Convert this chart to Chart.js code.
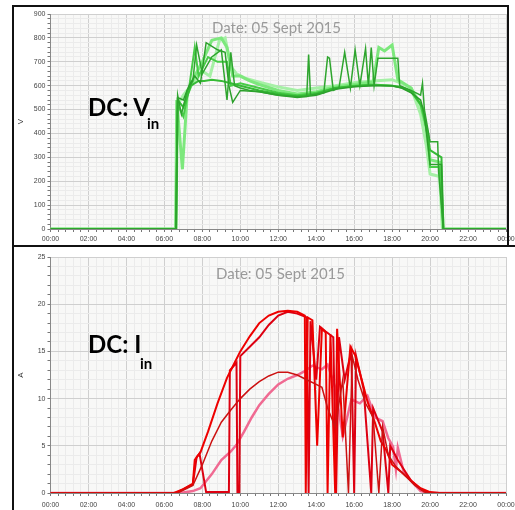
<!DOCTYPE html>
<html>
<head>
<meta charset="utf-8">
<script src="https://cdn.jsdelivr.net/npm/chart.js@4"></script>
<style>
  body { margin: 0; width: 515px; height: 510px; overflow: hidden; background: #fff; position: relative; font-family: Lato, sans-serif; }
  .box { position: absolute; left: 0; width: 515px; }
  .frame { position: absolute; border: 2px solid #111; box-sizing: border-box; pointer-events: none; }
  .date { position: absolute; color: #9a9a9a; font-size: 15px; white-space: nowrap; }
  .dc { position: absolute; font-weight: bold; font-size: 24px; color: #000; white-space: nowrap; }
  .sub { position: absolute; font-weight: bold; font-size: 15px; color: #000; }
</style>
</head>
<body>
<div class="box" style="top:0;height:245px"><canvas id="chart-v"></canvas></div>
<div class="box" style="top:245px;height:265px"><canvas id="chart-i"></canvas></div>
<div class="frame" style="left:12px;top:5px;width:497px;height:242px"></div>
<div class="frame" style="left:12px;top:245px;width:510px;height:275px"></div>

<div class="date" style="left:212px;top:18px">Date: 05 Sept 2015</div>
<div class="dc" style="left:88px;top:92px">DC: V</div>
<div class="sub" style="left:147px;top:114px">in</div>

<div class="date" style="left:216px;top:264px">Date: 05 Sept 2015</div>
<div class="dc" style="left:88px;top:329px">DC: I</div>
<div class="sub" style="left:140px;top:354px">in</div>

<script>
// ---- DC voltage (V), hours of day ----
const v1T = [0, 6.6, 6.65, 6.95, 7.2, 7.6, 8.0, 8.5, 9.0, 9.3, 9.6, 10.0, 10.5, 11, 12, 13, 14, 15, 16, 17, 17.3, 17.6, 18.0, 18.3, 18.5, 19.0, 19.5, 19.8, 20.0, 20.5, 20.7, 24];
const v1V = [0, 0, 540, 250, 560, 640, 700, 790, 800, 760, 640, 640, 620, 605, 580, 565, 575, 595, 605, 615, 760, 745, 770, 625, 615, 590, 520, 420, 290, 280, 0, 0];
const v2T = [0, 6.6, 6.7, 6.9, 7.2, 7.5, 7.7, 8.0, 8.5, 9.0, 9.3, 9.5, 9.7, 10.0, 10.5, 11, 12, 13, 13.5, 13.6, 13.7, 14.4, 14.6, 14.7, 14.9, 15.2, 15.5, 15.8, 16.05, 16.3, 16.6, 16.75, 16.9, 17.05, 17.25, 18.3, 18.4, 19, 19.5, 19.6, 19.7, 20.0, 20.4, 20.45, 20.7, 24];
const v2V = [0, 0, 560, 480, 580, 620, 770, 650, 720, 750, 540, 740, 600, 590, 580, 575, 560, 555, 555, 730, 560, 570, 720, 715, 580, 590, 740, 590, 750, 600, 755, 600, 760, 600, 715, 715, 600, 580, 560, 610, 500, 365, 365, 240, 0, 0];
const v3T = [0, 6.6, 6.7, 7.0, 7.3, 7.6, 7.8, 8.3, 8.8, 9.3, 9.5, 10, 11, 12, 13, 14, 15, 16, 17, 18, 18.5, 19, 19.5, 19.9, 20.0, 20.5, 20.7, 24];
const v3V = [0, 0, 520, 470, 590, 760, 640, 720, 700, 700, 600, 610, 590, 570, 560, 570, 590, 600, 605, 600, 595, 575, 520, 400, 260, 260, 0, 0];
const v4T = [0, 6.62, 6.7, 7.0, 7.4, 7.8, 8.1, 8.5, 9.0, 9.5, 10, 11, 12, 13, 14, 15, 16, 17, 18, 18.6, 19.1, 19.6, 20.0, 20.6, 20.7, 24];
const v4V = [0, 0, 540, 510, 600, 620, 620, 625, 620, 610, 600, 580, 565, 555, 565, 590, 598, 603, 600, 590, 570, 510, 330, 300, 0, 0];
const v5T = [0, 6.6, 6.7, 7.0, 7.5, 8.0, 8.4, 8.9, 9.2, 9.5, 9.8, 10.3, 11, 12, 13, 14, 15, 16, 17, 18, 18.5, 19, 19.5, 19.8, 20.0, 20.5, 20.65, 24];
const v5V = [0, 0, 520, 560, 610, 660, 640, 790, 800, 680, 650, 630, 615, 595, 580, 590, 600, 612, 620, 625, 610, 590, 480, 350, 230, 220, 0, 0];
const v6T = [0, 6.63, 6.7, 7.0, 7.3, 7.6, 7.9, 8.2, 8.8, 9.2, 9.4, 9.6, 10.0, 11, 12, 13, 14, 15, 16, 17, 18, 18.5, 19, 19.5, 19.7, 20.0, 20.6, 20.7, 24];
const v6V = [0, 0, 550, 540, 600, 640, 610, 780, 750, 740, 600, 530, 580, 575, 560, 550, 560, 585, 595, 600, 600, 590, 570, 540, 480, 270, 270, 0, 0];

// ---- DC current (A) ----
const i1T = [0, 6.5, 7.0, 7.5, 7.6, 7.9, 8.3, 8.8, 9.3, 9.7, 10.0, 10.5, 11.0, 11.5, 12.0, 12.5, 13.0, 13.4, 13.45, 13.55, 13.8, 14.05, 14.3, 14.5, 14.6, 14.75, 15.0, 15.1, 15.4, 15.8, 16.05, 16.4, 16.7, 17.1, 17.4, 17.7, 18.0, 18.5, 19.0, 19.5, 20.0, 20.5, 24];
const i1A = [0, 0, 0.4, 1.0, 3.5, 4.3, 6.5, 9.5, 12.2, 13.8, 15.0, 16.6, 18.0, 18.8, 19.2, 19.3, 19.2, 18.8, 0, 18.6, 18.3, 5.0, 17.4, 17.0, 0, 16.8, 0, 17.4, 5.9, 15.5, 14.6, 12, 9.7, 7.4, 5.5, 4.5, 3.0, 2.2, 1.3, 0.5, 0.1, 0, 0];
const i2T = [0, 6.6, 7.5, 7.7, 7.85, 8.2, 9.4, 9.45, 9.8, 9.85, 9.95, 10.0, 10.5, 11, 11.5, 12, 12.5, 13, 13.5, 13.6, 13.7, 14.0, 14.2, 14.5, 14.9, 15.05, 15.2, 15.5, 15.85, 16.0, 16.1, 16.5, 16.9, 17.0, 17.5, 17.8, 17.9, 18.3, 19, 19.5, 20, 24];
const i2A = [0, 0, 0.9, 3.8, 4.2, 0.1, 0.1, 13, 13.8, 0, 0, 14.5, 15.5, 16.5, 17.8, 18.8, 19.2, 19.0, 18.6, 0, 18.2, 12, 17.6, 17.1, 16.5, 0, 16.5, 12, 15.0, 0, 14.5, 11, 0, 9, 6.5, 0, 5, 3.5, 1.3, 0.4, 0, 0];
const i3T = [0, 6.7, 7.5, 8.0, 8.5, 9.0, 9.5, 10, 10.5, 11, 11.5, 12, 12.5, 13, 13.5, 14, 14.3, 14.6, 15, 15.4, 15.7, 15.9, 16.2, 16.6, 17, 17.3, 17.5, 17.8, 18.2, 18.7, 19.2, 19.7, 20, 24];
const i3A = [0, 0, 0.8, 3, 5.5, 7.5, 8.8, 10, 11.0, 11.8, 12.4, 12.8, 12.8, 12.5, 12.0, 11.5, 11.2, 9, 7, 12, 0, 14.5, 12, 9.5, 8, 0, 7, 4, 2.8, 1.8, 0.8, 0.1, 0, 0];
const i4T = [0, 6.8, 7.5, 7.9, 8.5, 9.0, 9.5, 9.8, 10.2, 10.6, 11, 11.5, 12, 12.5, 13, 13.4, 13.8, 14.3, 14.6, 15.0, 15.4, 15.85, 16.3, 16.7, 17.1, 17.5, 17.8, 18.05, 18.2, 18.3, 18.6, 19.0, 19.5, 20, 24];
const i4A = [0, 0, 0.2, 0.5, 2, 3.5, 4.4, 5.1, 6.5, 8, 9.3, 10.5, 11.5, 12.1, 12.5, 12.9, 13.5, 13.1, 13.6, 11.2, 6.0, 9.9, 9.5, 10.3, 8, 7.6, 5.8, 4.9, 2.5, 4.8, 2.3, 1.3, 0.2, 0, 0];

const pts = (t, v) => t.map((x, k) => ({ x, y: v[k] }));
const isMult = (v, m) => Math.abs(v / m - Math.round(v / m)) < 1e-6;
const hhmm = h => String(Math.round(h) % 24).padStart(2, '0') + ':00';

const areaBg = {
  id: 'areaBg',
  beforeDraw(c) {
    const a = c.chartArea, ctx = c.ctx;
    ctx.save();
    ctx.fillStyle = '#f8f8f7';
    ctx.fillRect(a.left, a.top, a.right - a.left, a.bottom - a.top);
    ctx.restore();
  }
};

const tickFont = { family: "'Liberation Sans', sans-serif", size: 7 };

function makeChart(id, datasets, yMax, yMinor, yMajor, unit, pad, labelPad) {
  return new Chart(document.getElementById(id), {
    type: 'line',
    data: { datasets },
    plugins: [areaBg],
    options: {
      responsive: true,
      maintainAspectRatio: false,
      animation: false,
      layout: { padding: pad },
      elements: { point: { radius: 0 }, line: { tension: 0 } },
      plugins: { legend: { display: false }, tooltip: { enabled: false } },
      scales: {
        x: {
          type: 'linear', min: 0, max: 24,
          afterFit: s => { s.height = pad.xh; s.paddingLeft = 0; s.paddingRight = 0; },
          ticks: {
            stepSize: 0.4, autoSkip: false, maxRotation: 0, padding: labelPad,
            color: '#444', font: tickFont,
            callback: v => isMult(v, 2) ? hhmm(v) : ''
          },
          grid: {
            color: c => isMult(c.tick.value, 2) ? '#cfcfcf' : '#ebebeb',
            tickColor: '#777', tickLength: 3
          },
          border: { color: '#888' }
        },
        y: {
          min: 0, max: yMax,
          afterFit: s => { s.width = pad.yw; s.paddingTop = 0; s.paddingBottom = 0; },
          title: { display: true, text: unit, color: '#333', font: { family: "'Liberation Sans', sans-serif", size: 8 }, padding: 0 },
          ticks: {
            stepSize: yMinor, autoSkip: false, padding: 2,
            color: '#444', font: tickFont,
            callback: v => isMult(v, yMajor) ? v : ''
          },
          grid: {
            color: c => isMult(c.tick.value, yMajor) ? '#cfcfcf' : '#ebebeb',
            tickColor: '#777', tickLength: 3
          },
          border: { color: '#888' }
        }
      }
    }
  });
}

makeChart('chart-v', [
  { data: pts(v2T, v2V), borderColor: '#2ea52e', borderWidth: 1.5 },
  { data: pts(v6T, v6V), borderColor: '#2b9f2b', borderWidth: 1.5 },
  { data: pts(v4T, v4V), borderColor: '#36bb36', borderWidth: 2 },
  { data: pts(v3T, v3V), borderColor: '#48cc48', borderWidth: 2 },
  { data: pts(v1T, v1V), borderColor: '#7de87d', borderWidth: 3 },
  { data: pts(v5T, v5V), borderColor: '#a6f0a6', borderWidth: 3 }
], 900, 20, 100, 'V', { left: 16, right: 9, top: 14, bottom: 0, yw: 34.5, xh: 16 }, 3);

makeChart('chart-i', [
  { data: pts(i3T, i3A), borderColor: '#cc1111', borderWidth: 1.5 },
  { data: pts(i1T, i1A), borderColor: '#ee0000', borderWidth: 2 },
  { data: pts(i2T, i2A), borderColor: '#dd0011', borderWidth: 2 },
  { data: pts(i4T, i4A), borderColor: '#f06a92', borderWidth: 2.5 }
], 25, 1, 5, 'A', { left: 16, right: 9, top: 12, bottom: 0, yw: 34.5, xh: 17 }, 5);
</script>
</body>
</html>
